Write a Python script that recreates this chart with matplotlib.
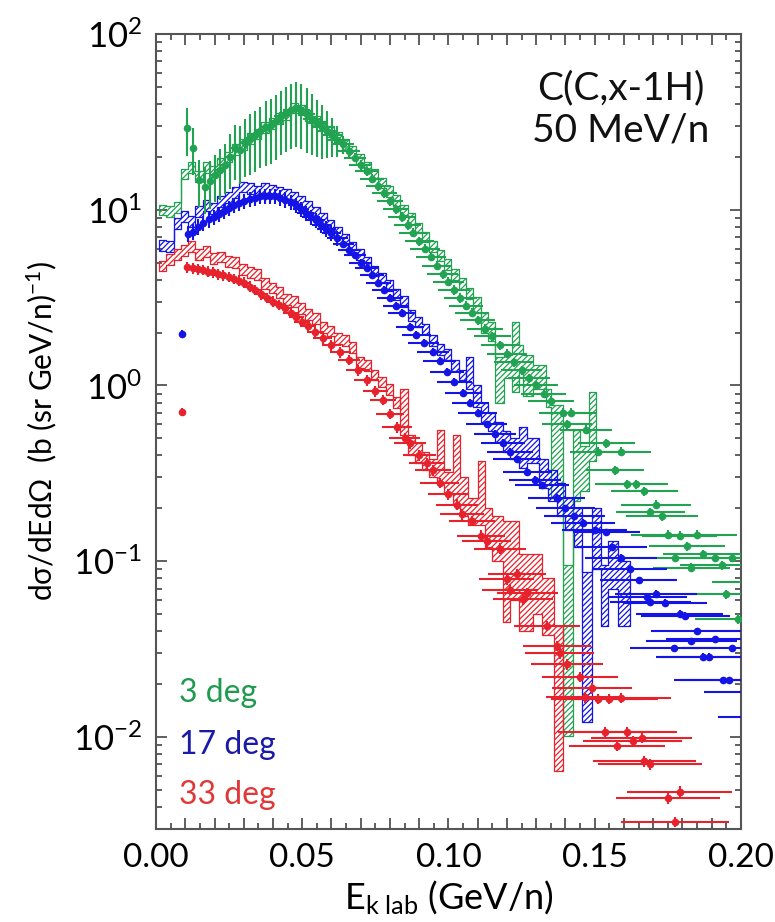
import numpy as np
import matplotlib
matplotlib.use("Agg")
import matplotlib.pyplot as plt
from matplotlib.ticker import MultipleLocator, LogLocator, FuncFormatter, NullFormatter

plt.rcParams['font.family'] = ['Lato', 'DejaVu Sans']
plt.rcParams['mathtext.fontset'] = 'custom'
plt.rcParams['mathtext.rm'] = 'Lato'
plt.rcParams['mathtext.it'] = 'Lato:italic'
plt.rcParams['mathtext.bf'] = 'Lato:bold'
plt.rcParams['axes.unicode_minus'] = False
plt.rcParams['hatch.linewidth'] = 0.9

# ---------------- measured points: 3 deg ----------------
green_x = [0.0106, 0.0127, 0.0148, 0.0168, 0.0185, 0.0200, 0.0218, 0.0236, 0.0253, 0.0270,
           0.0288, 0.0305, 0.0322, 0.0340, 0.0357, 0.0375, 0.0392, 0.0410, 0.0427, 0.0445,
           0.0462, 0.0480, 0.0497, 0.0515, 0.0532, 0.0550, 0.0567, 0.0585, 0.0602, 0.0620,
           0.0640, 0.0660, 0.0680, 0.0700, 0.0720, 0.0740, 0.0760, 0.0780, 0.0800, 0.0820,
           0.0840, 0.0860, 0.0880, 0.0900, 0.0920, 0.0940, 0.0960, 0.0980, 0.1000, 0.1020,
           0.1040, 0.1060, 0.1080, 0.1100, 0.1125, 0.1150, 0.1175, 0.1200, 0.1225, 0.1250,
           0.1275, 0.1300, 0.1325, 0.1350, 0.1390, 0.1420, 0.1405, 0.1470, 0.1540, 0.1510,
           0.1590, 0.1570, 0.1610, 0.1640, 0.1670, 0.1710, 0.1690, 0.1730, 0.1750, 0.1790,
           0.1850, 0.1815, 0.1774, 0.1870, 0.1910, 0.1830, 0.1935, 0.1970, 0.1950, 0.1990,
           0.2050, 0.2080]
green_y = [29.0, 22.5, 14.8, 13.5, 14.5, 15.8, 16.8, 18.0, 20.0, 22.5,
           22.0, 24.0, 25.5, 26.5, 28.0, 29.5, 30.5, 32.0, 34.0, 35.5,
           37.0, 38.0, 37.0, 35.0, 33.0, 31.0, 29.5, 28.0, 26.5, 25.0,
           23.5, 21.5, 19.8, 18.0, 16.5, 15.0, 13.6, 12.4, 11.2, 10.1,
           9.1, 8.2, 7.4, 6.6, 6.0, 5.4, 4.8, 4.3, 3.9, 3.5,
           3.15, 2.85, 2.6, 2.35, 2.1, 1.9, 1.7, 1.52, 1.36, 1.22,
           1.1, 1.0, 0.9, 0.82, 0.70, 0.70, 0.60, 0.56, 0.47, 0.42,
           0.42, 0.33, 0.275, 0.275, 0.25, 0.21, 0.19, 0.18, 0.142, 0.14,
           0.142, 0.122, 0.105, 0.11, 0.105, 0.092, 0.095, 0.105, 0.065, 0.047,
           0.076, 0.040]
green_xerr = [0.0006, 0.0007, 0.0008, 0.0009, 0.0010, 0.0011, 0.0012, 0.0013, 0.0014, 0.0015,
              0.0016, 0.0017, 0.0018, 0.0019, 0.0020, 0.0021, 0.0022, 0.0023, 0.0024, 0.0025,
              0.0026, 0.0027, 0.0028, 0.0029, 0.0030, 0.0031, 0.0032, 0.0033, 0.0034, 0.0035,
              0.0036, 0.0037, 0.0038, 0.0039, 0.0040, 0.0041, 0.0042, 0.0043, 0.0044, 0.0045,
              0.0046, 0.0047, 0.0048, 0.0049, 0.0050, 0.0051, 0.0052, 0.0053, 0.0054, 0.0055,
              0.0056, 0.0057, 0.0058, 0.0059, 0.0061, 0.0063, 0.0065, 0.0067, 0.0069, 0.0071,
              0.0073, 0.0075, 0.0077, 0.0079, 0.0082, 0.0085, 0.0084, 0.0090, 0.0098, 0.0095,
              0.0102, 0.0100, 0.0110, 0.0112, 0.0115, 0.0120, 0.0118, 0.0122, 0.0125, 0.0128,
              0.0135, 0.0130, 0.0128, 0.0135, 0.0140, 0.0132, 0.0142, 0.0145, 0.0143, 0.0146,
              0.0150, 0.0150]
green_yrel = [0.30, 0.30, 0.30, 0.30, 0.30, 0.30, 0.32, 0.32, 0.34, 0.34,
              0.36, 0.36, 0.38, 0.38, 0.38, 0.40, 0.40, 0.40, 0.40, 0.40,
              0.40, 0.40, 0.40, 0.40, 0.38, 0.36, 0.34, 0.30, 0.25, 0.20,
              0.12, 0.08] + [0.06] * 60

# ---------------- measured points: 17 deg ----------------
blue_x = [0.0089, 0.0110, 0.0127, 0.0145, 0.0162, 0.0180, 0.0197, 0.0214, 0.0232, 0.0250,
          0.0267, 0.0285, 0.0302, 0.0320, 0.0337, 0.0355, 0.0372, 0.0390, 0.0407, 0.0425,
          0.0442, 0.0460, 0.0477, 0.0495, 0.0512, 0.0530, 0.0547, 0.0565, 0.0582, 0.0600,
          0.0620, 0.0640, 0.0660, 0.0680, 0.0700, 0.0720, 0.0740, 0.0760, 0.0780, 0.0800,
          0.0820, 0.0840, 0.0868, 0.0890, 0.0915, 0.0947, 0.0970, 0.0995, 0.1020, 0.1050,
          0.1075, 0.1100, 0.1130, 0.1160, 0.1186, 0.1210, 0.1234, 0.1270, 0.1295, 0.1320,
          0.1370, 0.1400, 0.1430, 0.1460, 0.1500, 0.1540, 0.1560, 0.1590, 0.1620, 0.1650,
          0.1680, 0.1710, 0.1690, 0.1740, 0.1790, 0.1810, 0.1850, 0.1830, 0.1910, 0.1770,
          0.1970, 0.1870, 0.1890, 0.1940, 0.1960, 0.2050, 0.2100]
blue_y = [1.97, 7.3, 7.5, 8.0, 8.4, 8.8, 9.1, 9.4, 9.8, 10.2,
          10.6, 10.9, 11.2, 11.5, 11.7, 11.9, 12.0, 12.0, 11.9, 11.7,
          11.4, 11.0, 10.6, 10.1, 9.6, 9.1, 8.7, 8.2, 7.8, 7.4,
          6.9, 6.4, 5.9, 5.5, 5.0, 4.65, 4.25, 3.85, 3.5, 3.15,
          2.85, 2.6, 2.16, 1.95, 1.75, 1.55, 1.38, 1.2, 1.05, 0.91,
          0.80, 0.70, 0.60, 0.53, 0.47, 0.42, 0.38, 0.32, 0.29, 0.27,
          0.23, 0.20, 0.18, 0.165, 0.15, 0.146, 0.12, 0.105, 0.09, 0.078,
          0.063, 0.065, 0.059, 0.058, 0.050, 0.049, 0.040, 0.035, 0.036, 0.032,
          0.032, 0.0285, 0.0285, 0.021, 0.021, 0.018, 0.013]
blue_xerr = [0.0005, 0.0006, 0.0007, 0.0008, 0.0009, 0.0010, 0.0011, 0.0012, 0.0013, 0.0014,
             0.0015, 0.0016, 0.0017, 0.0018, 0.0019, 0.0020, 0.0021, 0.0022, 0.0023, 0.0024,
             0.0025, 0.0026, 0.0027, 0.0028, 0.0029, 0.0030, 0.0031, 0.0032, 0.0033, 0.0034,
             0.0035, 0.0036, 0.0037, 0.0038, 0.0039, 0.0040, 0.0041, 0.0042, 0.0043, 0.0044,
             0.0045, 0.0046, 0.0048, 0.0050, 0.0052, 0.0054, 0.0056, 0.0058, 0.0060, 0.0062,
             0.0064, 0.0066, 0.0069, 0.0072, 0.0075, 0.0078, 0.0081, 0.0085, 0.0088, 0.0091,
             0.0097, 0.0100, 0.0104, 0.0108, 0.0112, 0.0116, 0.0120, 0.0124, 0.0128, 0.0132,
             0.0136, 0.0140, 0.0138, 0.0144, 0.0150, 0.0152, 0.0158, 0.0155, 0.0165, 0.0148,
             0.0170, 0.0160, 0.0162, 0.0168, 0.0170, 0.0175, 0.0180]
blue_yrel = [0.05] + [0.10] * 30 + [0.05] * 56

# ---------------- measured points: 33 deg ----------------
red_x = [0.0089, 0.0106, 0.0125, 0.0143, 0.0160, 0.0178, 0.0195, 0.0213, 0.0230, 0.0248,
         0.0265, 0.0283, 0.0300, 0.0320, 0.0340, 0.0360, 0.0380, 0.0400, 0.0420, 0.0440,
         0.0460, 0.0480, 0.0500, 0.0520, 0.0545, 0.0570, 0.0600, 0.0630, 0.0660, 0.0690,
         0.0720, 0.0750, 0.0776, 0.0800, 0.0824, 0.0850, 0.0868, 0.0900, 0.0925, 0.0947,
         0.0970, 0.1000, 0.1030, 0.1046, 0.1080, 0.1110, 0.1130, 0.1176, 0.1200, 0.1210,
         0.1235, 0.1255, 0.1270, 0.1337, 0.1370, 0.1380, 0.1405, 0.1450, 0.1490, 0.1467,
         0.1510, 0.1550, 0.1590, 0.1535, 0.1610, 0.1576, 0.1630, 0.1660, 0.1670, 0.1690,
         0.1790, 0.1750, 0.1774]
red_y = [0.71, 4.7, 4.65, 4.6, 4.55, 4.45, 4.4, 4.3, 4.25, 4.15,
         4.05, 3.95, 3.85, 3.65, 3.5, 3.3, 3.15, 3.0, 2.88, 2.75,
         2.6, 2.45, 2.3, 2.18, 2.02, 1.86, 1.7, 1.55, 1.4, 1.22,
         1.07, 0.93, 0.83, 0.69, 0.58, 0.50, 0.47, 0.40, 0.36, 0.33,
         0.28, 0.24, 0.21, 0.185, 0.17, 0.14, 0.13, 0.118, 0.079, 0.069,
         0.085, 0.061, 0.066, 0.043, 0.033, 0.030, 0.026, 0.022, 0.019, 0.0169,
         0.0165, 0.0165, 0.0167, 0.0107, 0.0107, 0.0089, 0.0095, 0.0099, 0.0073, 0.0070,
         0.0049, 0.0045, 0.0033]
red_xerr = [0.0005, 0.0006, 0.0007, 0.0008, 0.0009, 0.0010, 0.0011, 0.0012, 0.0013, 0.0014,
            0.0015, 0.0016, 0.0017, 0.0018, 0.0019, 0.0020, 0.0021, 0.0022, 0.0023, 0.0024,
            0.0025, 0.0026, 0.0027, 0.0028, 0.0030, 0.0032, 0.0034, 0.0036, 0.0038, 0.0040,
            0.0042, 0.0044, 0.0046, 0.0048, 0.0050, 0.0052, 0.0054, 0.0057, 0.0060, 0.0063,
            0.0066, 0.0069, 0.0072, 0.0074, 0.0078, 0.0082, 0.0085, 0.0090, 0.0094, 0.0096,
            0.0099, 0.0102, 0.0104, 0.0112, 0.0116, 0.0118, 0.0122, 0.0130, 0.0136, 0.0133,
            0.0160, 0.0165, 0.0170, 0.0160, 0.0170, 0.0165, 0.0170, 0.0172, 0.0175, 0.0178,
            0.0180, 0.0178, 0.0185]
red_yrel = [0.05] + [0.07] * 72

# ---------------- simulated spectra ----------------
# fine binning at low energy (shared by all angles); thin statistical band
sim_edges_fine = [0.0010, 0.0035, 0.0060, 0.0085, 0.0110, 0.0135, 0.0160, 0.0185, 0.0210, 0.0235,
                  0.0260, 0.0285, 0.0310, 0.0335, 0.0360, 0.0385, 0.0410, 0.0435, 0.0460, 0.0485,
                  0.0510, 0.0535, 0.0560, 0.0585, 0.0610, 0.0635, 0.0660, 0.0685, 0.0710, 0.0735,
                  0.0760, 0.0785, 0.0810, 0.0835, 0.0860, 0.0885, 0.0910, 0.0935, 0.0960, 0.0985,
                  0.1010, 0.1035, 0.1060]
sim_band = 0.07

green_sim_val = [10.0, 9.8, 10.3, 16.0, 17.5, 15.5, 17.5, 16.5, 18.5, 20.0,
                 22.0, 23.5, 25.5, 27.0, 29.5, 31.0, 33.0, 35.0, 38.0, 37.0,
                 34.5, 32.0, 30.0, 28.0, 26.0, 23.5, 21.5, 19.5, 17.5, 16.0,
                 14.2, 12.7, 11.3, 10.0, 8.9, 7.9, 7.0, 6.2, 5.5, 4.9,
                 4.3, 3.8]
blue_sim_val = [6.3, 6.2, 8.4, 9.2, 8.6, 9.8, 10.6, 10.2, 11.2, 11.8,
                12.6, 13.5, 13.2, 12.8, 13.3, 12.9, 12.6, 12.3, 11.8, 11.2,
                10.5, 9.7, 8.9, 8.2, 7.5, 6.8, 6.1, 5.6, 5.0, 4.5,
                4.1, 3.7, 3.3, 3.0, 2.5, 2.3, 2.1, 1.8, 1.6, 1.5,
                1.3, 1.15]
red_sim_val = [4.8, 5.2, 5.6, 5.9, 6.2, 5.6, 5.8, 5.3, 5.4, 5.1,
               5.0, 4.6, 4.4, 4.3, 3.8, 3.6, 3.4, 3.1, 3.0, 2.75,
               2.55, 2.4, 2.15, 2.05, 1.85, 1.8, 1.65, 1.35, 1.3, 1.15,
               1.05, 0.95, 0.8]

# high-energy tails with large statistical uncertainties (lower / upper bounds)
green_tail_edges = [0.1060, 0.1085, 0.1110, 0.1135, 0.1160, 0.1190, 0.1217, 0.1240, 0.1255,
                    0.1290, 0.1335, 0.1350, 0.1390, 0.1425, 0.1450, 0.1480, 0.1505]
green_tail_lo = [3.1, 2.6, 2.0, 1.8, 0.8, 1.1, 0.92, 1.2, 0.87, 0.95, 0.75, 0.23, 0.0101, 0.22, 0.25, 0.37]
green_tail_hi = [3.6, 3.2, 2.6, 2.3, 1.45, 1.5, 2.3, 1.7, 1.5, 1.3, 0.95, 0.77, 0.095, 0.56, 0.45, 0.92]

blue_tail_edges = [0.1060, 0.1085, 0.1110, 0.1135, 0.1160, 0.1185, 0.1210, 0.1240, 0.1270, 0.1310,
                   0.1340, 0.1370, 0.1400, 0.1430, 0.1455, 0.1490, 0.1520, 0.1545, 0.1580, 0.1620]
blue_tail_lo = [0.95, 0.75, 0.62, 0.55, 0.48, 0.42, 0.38, 0.34, 0.36, 0.26,
                0.22, 0.18, 0.15, 0.12, 0.0122, 0.09, 0.043, 0.07, 0.043]
blue_tail_hi = [1.45, 1.0, 0.80, 0.70, 0.62, 0.55, 0.50, 0.58, 0.50, 0.38,
                0.33, 0.28, 0.23, 0.20, 0.087, 0.20, 0.095, 0.13, 0.10]

red_tail_edges = [0.0835, 0.0860, 0.0885, 0.0910, 0.0935, 0.0960, 0.0985, 0.1015, 0.1040, 0.1065,
                  0.1100, 0.1125, 0.1150, 0.1185, 0.1210, 0.1240, 0.1290, 0.1320, 0.1360, 0.1390]
red_tail_lo = [0.52, 0.40, 0.36, 0.33, 0.30, 0.28, 0.24, 0.21, 0.18, 0.16,
               0.16, 0.12, 0.10, 0.045, 0.06, 0.04, 0.05, 0.038, 0.0064]
red_tail_hi = [0.95, 0.52, 0.47, 0.42, 0.38, 0.56, 0.32, 0.52, 0.30, 0.23,
               0.37, 0.20, 0.18, 0.17, 0.17, 0.11, 0.11, 0.08, 0.043]

GREEN = '#22a352'
BLUE = '#1414e6'
RED = '#e8222c'

fig = plt.figure(figsize=(7.75, 9.22), dpi=100)
ax = fig.add_axes([0.2013, 0.1009, 0.7548, 0.8623])
ax.set_yscale('log')
ax.set_xlim(0.0, 0.2)
ax.set_ylim(3e-3, 100)


def hatched_steps(edges, lo, hi, color):
    lo = np.append(np.asarray(lo, dtype=float), lo[-1])
    hi = np.append(np.asarray(hi, dtype=float), hi[-1])
    ax.fill_between(edges, lo, hi, step='post', facecolor='none',
                    edgecolor=color, hatch='//////', linewidth=0.9, zorder=2)


def draw_sim(val, tail_edges, tail_lo, tail_hi, color):
    val = np.asarray(val, dtype=float)
    edges = sim_edges_fine[:len(val) + 1]
    hatched_steps(edges, val * (1 - sim_band), val * (1 + sim_band), color)
    hatched_steps(tail_edges, tail_lo, tail_hi, color)


def draw_data(x, y, xerr, yrel, color):
    y = np.asarray(y, dtype=float)
    ax.errorbar(x, y, xerr=xerr, yerr=y * np.asarray(yrel), fmt='o', ms=5.5,
                color=color, ecolor=color, elinewidth=1.5, capsize=0, mew=0, zorder=3)


draw_sim(green_sim_val, green_tail_edges, green_tail_lo, green_tail_hi, GREEN)
draw_data(green_x, green_y, green_xerr, green_yrel, GREEN)
draw_sim(blue_sim_val, blue_tail_edges, blue_tail_lo, blue_tail_hi, BLUE)
draw_data(blue_x, blue_y, blue_xerr, blue_yrel, BLUE)
draw_sim(red_sim_val, red_tail_edges, red_tail_lo, red_tail_hi, RED)
draw_data(red_x, red_y, red_xerr, red_yrel, RED)

# axes styling
ax.xaxis.set_major_locator(MultipleLocator(0.01))
ax.xaxis.set_minor_locator(MultipleLocator(0.005))


def xfmt(v, pos):
    q = v / 0.05
    return f'{v:.2f}' if abs(q - round(q)) < 1e-6 else ''


ax.xaxis.set_major_formatter(FuncFormatter(xfmt))
ax.yaxis.set_major_locator(LogLocator(base=10.0, numticks=10))
ax.yaxis.set_minor_locator(LogLocator(base=10.0, subs=np.arange(2, 10), numticks=20))
ax.yaxis.set_minor_formatter(NullFormatter())

ax.tick_params(which='both', direction='in', top=True, right=True, colors='#444444',
               labelcolor='black', width=1.2)
ax.tick_params(axis='x', which='major', labelsize=24, length=8, pad=10)
ax.tick_params(axis='y', which='major', labelsize=25, length=8, pad=10)
ax.tick_params(which='minor', length=4)
for sp in ax.spines.values():
    sp.set_color('#555555')
    sp.set_linewidth(1.5)

ax.set_xlabel(r'E$_{\mathrm{k\ lab}}$ (GeV/n)', fontsize=26, labelpad=4)
ax.set_ylabel('dσ/dEdΩ  (b (sr GeV/n)$^{-1}$)', fontsize=21.5, labelpad=10)

ax.text(0.795, 0.932, 'C(C,x-1H)', transform=ax.transAxes, ha='center', va='center',
        fontsize=28, color='#111111')
ax.text(0.795, 0.879, '50 MeV/n', transform=ax.transAxes, ha='center', va='center',
        fontsize=28, color='#111111')

ax.text(0.04, 0.171, '3 deg', transform=ax.transAxes, ha='left', va='center',
        fontsize=23, color='#1f9a4f')
ax.text(0.04, 0.106, '17 deg', transform=ax.transAxes, ha='left', va='center',
        fontsize=23, color='#1a1aa8')
ax.text(0.04, 0.043, '33 deg', transform=ax.transAxes, ha='left', va='center',
        fontsize=23, color='#e03838')

fig.savefig('out.png', dpi=100)
